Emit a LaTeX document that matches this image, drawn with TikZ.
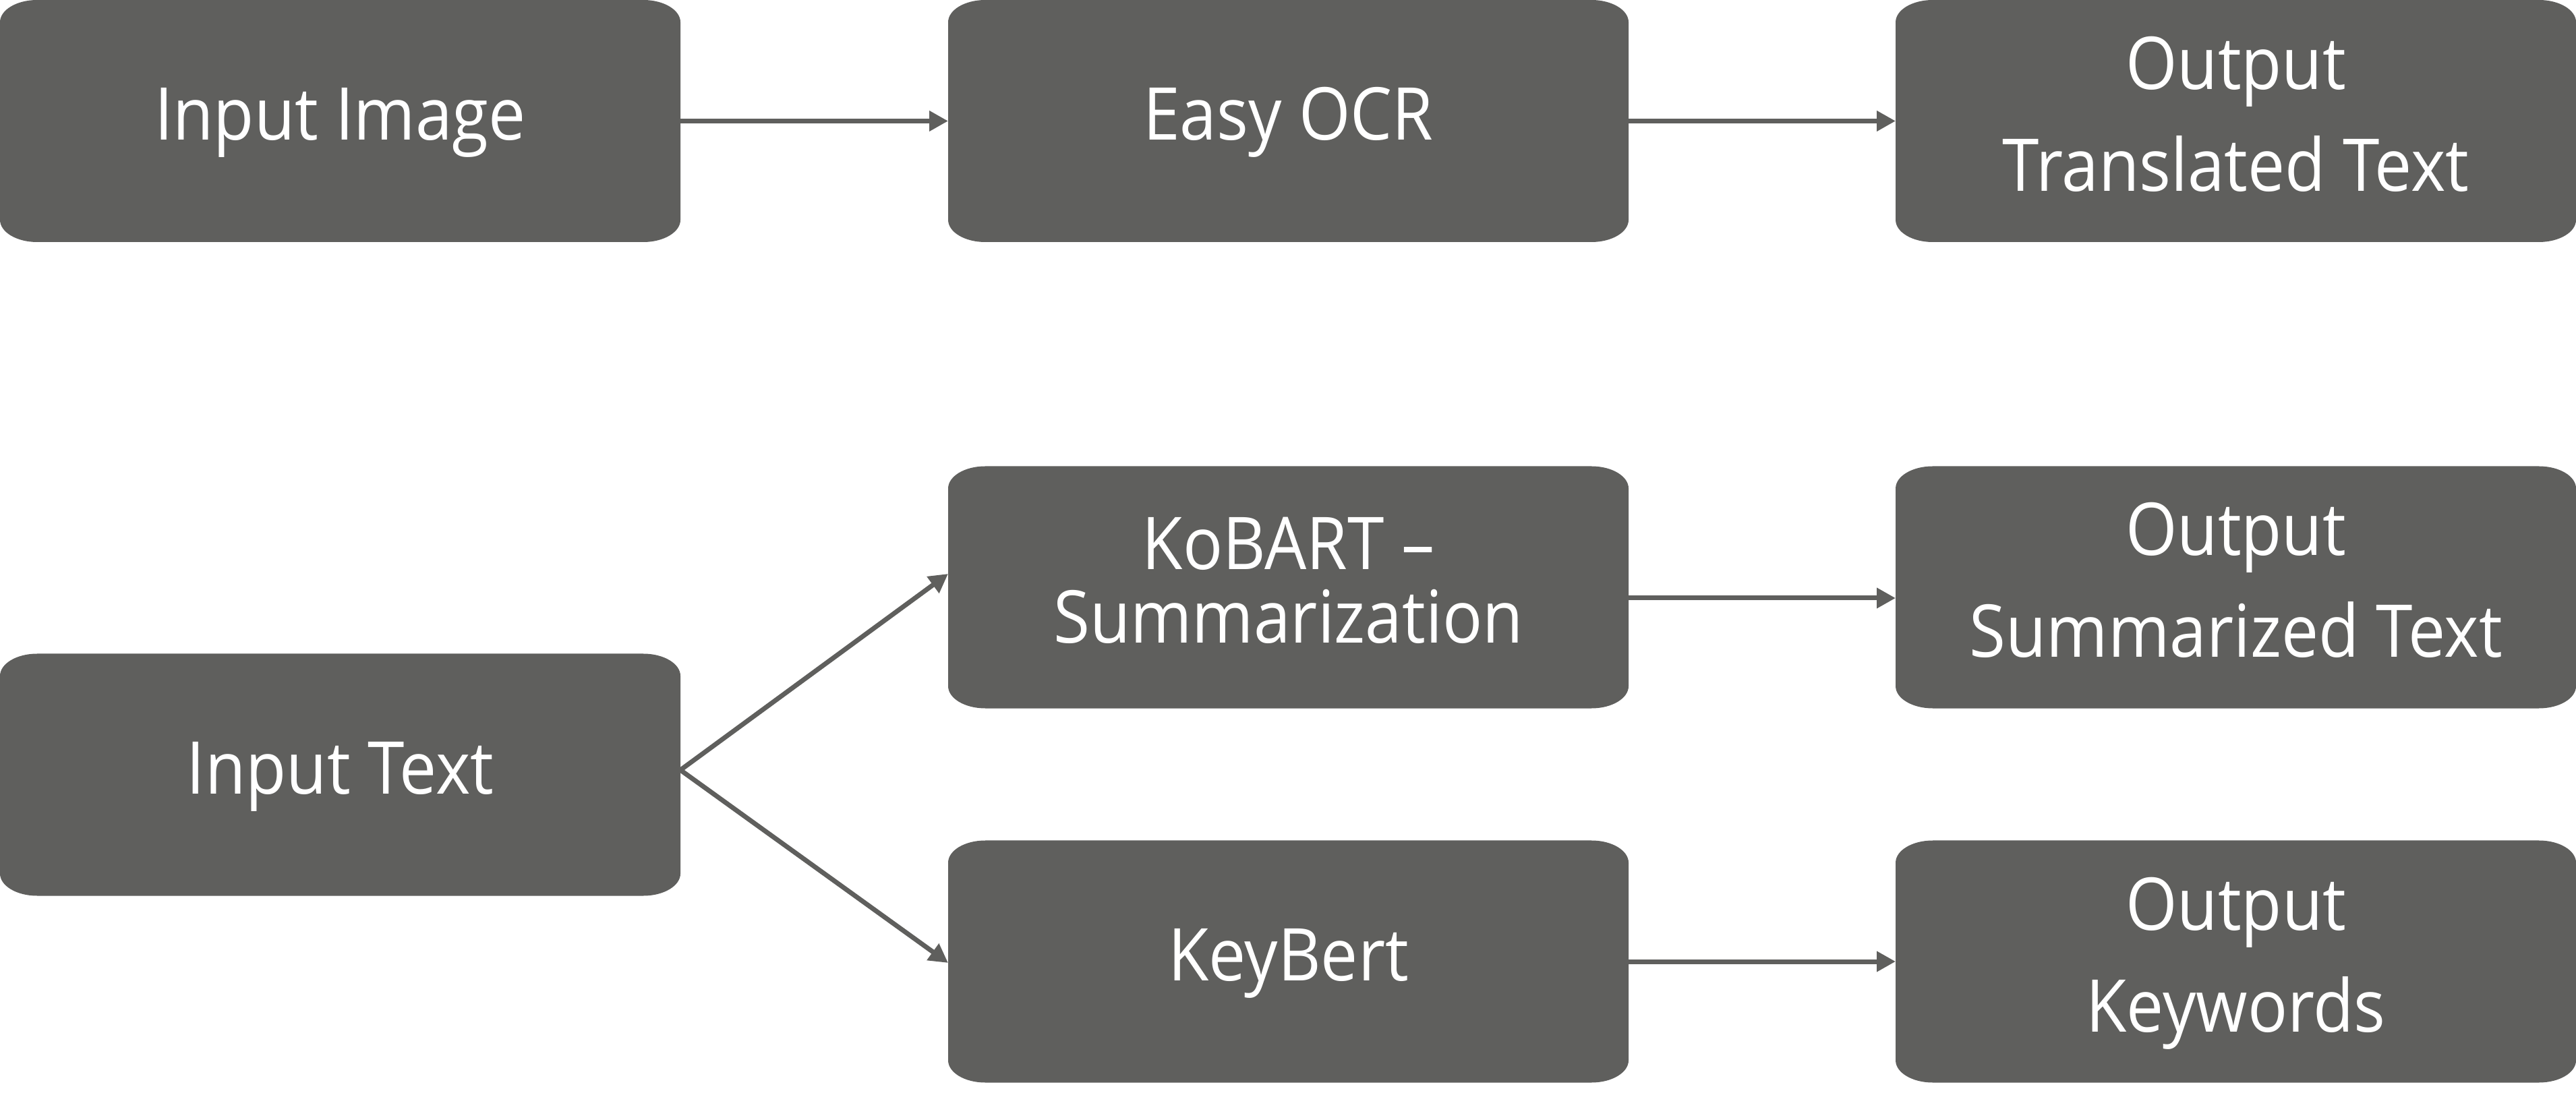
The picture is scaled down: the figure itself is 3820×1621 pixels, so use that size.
\documentclass[tikz,border=0pt]{standalone}
\usepackage{fontspec}
\setmainfont[FakeStretch=0.91]{Open Sans}
\usetikzlibrary{arrows.meta}
\definecolor{boxgray}{HTML}{5F5F5D}
\newcommand{\tstrut}{\rule{0pt}{18pt}}
\newcommand{\bstrut}{\rule[-6.6pt]{0pt}{6.6pt}}
\begin{document}
\begin{tikzpicture}[x=0.2pt,y=0.2pt,
  stagebox/.style={rectangle, minimum width=201.8pt, minimum height=71.8pt,
    inner sep=0pt, outer sep=0pt, text=white, align=center, fill=white,
    path picture={
      \fill[boxgray]
        ([xshift=11pt]path picture bounding box.south west)
        -- ([xshift=-11pt]path picture bounding box.south east)
        arc[start angle=-90,end angle=0,x radius=11pt,y radius=6.6pt]
        -- ([yshift=-6.6pt]path picture bounding box.north east)
        arc[start angle=0,end angle=90,x radius=11pt,y radius=6.6pt]
        -- ([xshift=11pt]path picture bounding box.north west)
        arc[start angle=90,end angle=180,x radius=11pt,y radius=6.6pt]
        -- ([yshift=6.6pt]path picture bounding box.south west)
        arc[start angle=180,end angle=270,x radius=11pt,y radius=6.6pt]
        -- cycle;}},
  onebox/.style={stagebox, font=\fontsize{21.6pt}{21.8pt}\selectfont},
  tightbox/.style={stagebox, font=\fontsize{21.6pt}{21.8pt}\selectfont},
  widebox/.style={stagebox, font=\fontsize{21.6pt}{30.2pt}\selectfont},
  flow/.style={draw=boxgray, line width=1.4pt,
    -{Triangle[length=5.6pt,width=5.8pt]}}]
\useasboundingbox (0,0) rectangle (3820,-1621);

\node[onebox]   (inimg)  at (504.5,-179.5)  {\tstrut Input Image\bstrut};
\node[onebox]   (ocr)    at (1910.5,-179.5) {\tstrut Easy OCR\bstrut};
\node[widebox]  (outtr)  at (3315.5,-179.5) {\tstrut Output\\ Translated Text\bstrut};

\node[tightbox] (kobart) at (1910.5,-871)   {\tstrut KoBART –\\ Summarization\bstrut};
\node[widebox]  (outsum) at (3315.5,-871)   {\tstrut Output\\ Summarized Text\bstrut};

\node[onebox]   (intext) at (504.5,-1149)   {\tstrut Input Text\bstrut};

\node[onebox]   (keyb)   at (1910.5,-1426)  {\tstrut KeyBert\bstrut};
\node[widebox]  (outkw)  at (3315.5,-1426)  {\tstrut Output\\ Keywords\bstrut};

\draw[flow] (inimg.east) -- (ocr.west);
\draw[flow] (ocr.east) -- (outtr.west);
\draw[flow] ([yshift=-3.2pt]kobart.east) -- ([yshift=-3.2pt]outsum.west);
\draw[flow] (keyb.east) -- (outkw.west);
\draw[flow] ([yshift=1.4pt]intext.east) -- ([yshift=4pt]kobart.west);
\draw[flow] ([yshift=1.4pt]intext.east) -- ([yshift=-0.4pt]keyb.west);
\end{tikzpicture}
\end{document}
